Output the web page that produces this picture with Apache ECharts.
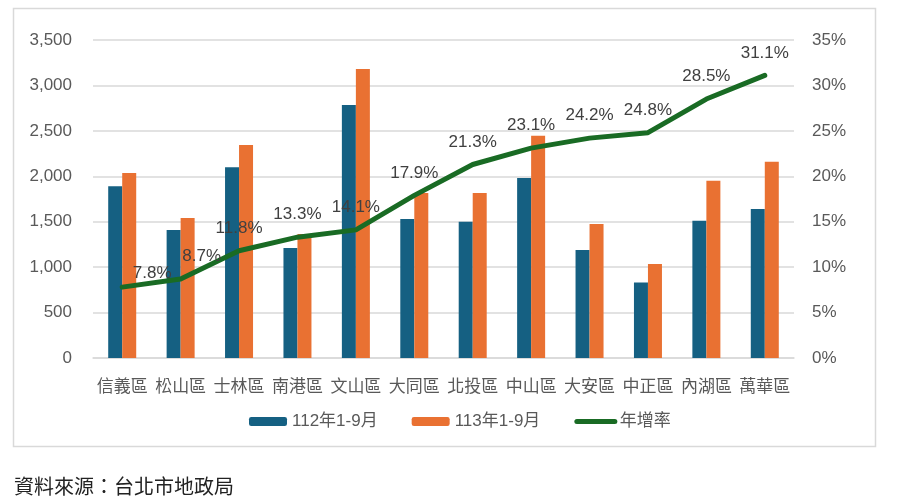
<!DOCTYPE html>
<html><head><meta charset="utf-8">
<script src="https://cdn.jsdelivr.net/npm/echarts@6/dist/echarts.min.js"></script>
<style>html,body{margin:0;padding:0;background:#fff}#c{width:913px;height:502px}</style>
</head><body><div id="c"></div>
<script>
const categories = ['信義區','松山區','士林區','南港區','文山區','大同區','北投區','中山區','大安區','中正區','內湖區','萬華區'];
const s112 = [1890, 1410, 2100, 1210, 2785, 1530, 1500, 1980, 1190, 830, 1510, 1640];
const s113 = [2035, 1540, 2345, 1365, 3180, 1815, 1815, 2445, 1475, 1035, 1950, 2160];
const growth = [7.8, 8.7, 11.8, 13.3, 14.1, 17.9, 21.3, 23.1, 24.2, 24.8, 28.5, 31.1];
const seriesNames = ['112年1-9月', '113年1-9月', '年增率'];
const sourceText = '資料來源：台北市地政局';

const FF = "'Liberation Sans', 'Noto Sans CJK TC', sans-serif";
const chart = echarts.init(document.getElementById('c'), null, {renderer: 'canvas'});
const labelShift = {0: {dx: 30, dy: 9}, 1: {dx: 21, dy: 0}};
chart.setOption({
  animation: false,
  textStyle: {fontFamily: FF},
  graphic: [
    {type: 'rect', shape: {x: 13.5, y: 8.5, width: 862, height: 438}, style: {fill: 'none', stroke: '#d9d9d9', lineWidth: 1.5}, z: -1},
    {type: 'text', left: 14, top: 476, style: {text: sourceText, font: "20px 'Noto Sans CJK TC', sans-serif", fill: '#222'}}
  ],
  legend: {
    left: 244, top: 408,
    itemWidth: 38, itemHeight: 9, itemGap: 34,
    textStyle: {fontSize: 17, color: '#595959', fontFamily: FF},
    data: [
      seriesNames[0], seriesNames[1],
      {name: seriesNames[2], itemStyle: {color: 'rgba(0,0,0,0)'}, lineStyle: {width: 5, cap: 'round', color: '#196B24'}}
    ]
  },
  grid: {left: 93, right: 119, top: 40, bottom: 144},
  xAxis: {
    type: 'category', data: categories,
    axisLine: {lineStyle: {color: '#d9d9d9', width: 1.5}},
    axisTick: {show: false},
    axisLabel: {color: '#595959', fontSize: 17, margin: 21, interval: 0, fontFamily: FF}
  },
  yAxis: [
    {type: 'value', min: 0, max: 3500, interval: 500,
     axisLabel: {color: '#595959', fontSize: 17, margin: 21, fontFamily: FF,
       formatter: v => v.toLocaleString('en-US')},
     splitLine: {lineStyle: {color: '#d9d9d9', width: 1.5}},
     axisLine: {show: false}, axisTick: {show: false}},
    {type: 'value', min: 0, max: 35, interval: 5,
     axisLabel: {color: '#595959', fontSize: 17, margin: 18, fontFamily: FF, formatter: '{value}%'},
     splitLine: {show: false}, axisLine: {show: false}, axisTick: {show: false}}
  ],
  series: [
    {name: seriesNames[0], type: 'bar', data: s112, barWidth: 14, barGap: '0%', itemStyle: {color: '#156082'}},
    {name: seriesNames[1], type: 'bar', data: s113, barWidth: 14, itemStyle: {color: '#E97132'}},
    {name: seriesNames[2], type: 'line', yAxisIndex: 1, symbol: 'circle', symbolSize: 2, showSymbol: true,
     lineStyle: {color: '#196B24', width: 5, cap: 'round', join: 'round'},
     itemStyle: {color: 'rgba(0,0,0,0)'},
     data: growth,
     label: {show: true, position: 'top', distance: 13, fontSize: 17, color: '#404040', fontFamily: FF,
       formatter: p => Number(p.value).toFixed(1) + '%'},
     labelLayout: p => Object.assign({hideOverlap: false}, labelShift[p.dataIndex] || {}),
     z: 5}
  ]
});
</script></body></html>
